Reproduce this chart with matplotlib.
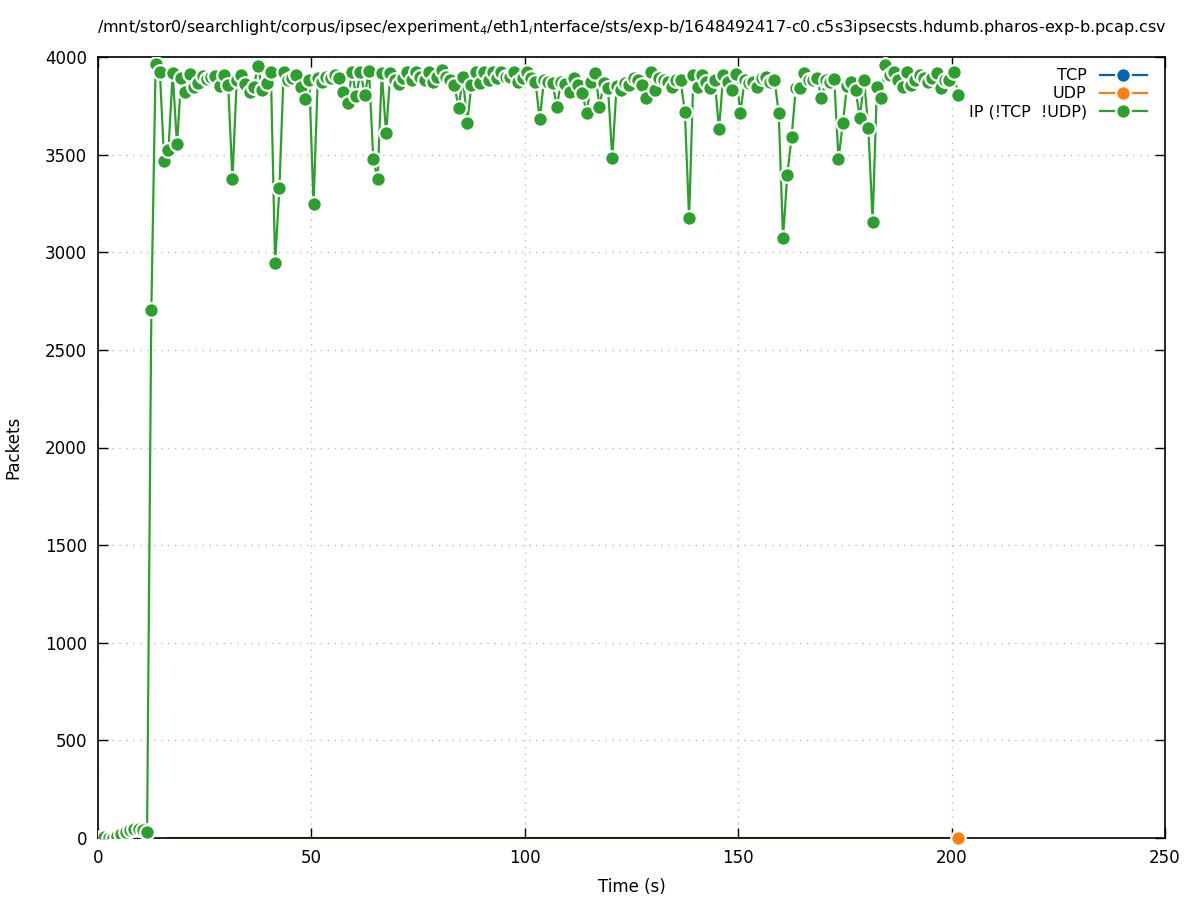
import matplotlib
matplotlib.use('Agg')
import matplotlib.pyplot as plt
import numpy as np

# packets per sample for IP traffic that is neither TCP nor UDP (one sample per second)
ip_other = [
    0, 5, 0, 0, 8, 20, 30, 42, 45, 46, 40, 30, 2704,
    3964, 3922, 3469, 3524, 3917, 3553, 3891, 3822, 3913, 3848,
    3866, 3903, 3887, 3900, 3903, 3852, 3908, 3857, 3374, 3882,
    3908, 3860, 3822, 3848, 3954, 3831, 3866, 3924, 2947, 3328,
    3924, 3882, 3895, 3908, 3848, 3783, 3882, 3246, 3891, 3873,
    3900, 3890, 3910, 3891, 3822, 3764, 3924, 3800, 3924, 3805,
    3929, 3478, 3375, 3919, 3609, 3917, 3882, 3862, 3890, 3924,
    3882, 3924, 3900, 3882, 3924, 3873, 3900, 3934, 3900, 3880,
    3857, 3738, 3900, 3660, 3857, 3924, 3866, 3924, 3882, 3924,
    3891, 3924, 3900, 3900, 3924, 3873, 3890, 3924, 3890, 3873,
    3680, 3882, 3870, 3866, 3746, 3873, 3860, 3822, 3891, 3857,
    3814, 3712, 3870, 3917, 3746, 3866, 3840, 3481, 3850, 3831,
    3866, 3857, 3891, 3882, 3857, 3788, 3924, 3831, 3891, 3880,
    3870, 3848, 3880, 3882, 3719, 3174, 3908, 3848, 3908, 3870,
    3840, 3882, 3629, 3908, 3870, 3831, 3913, 3712, 3880, 3866,
    3870, 3848, 3890, 3900, 3870, 3882, 3715, 3072, 3396, 3588,
    3840, 3840, 3917, 3880, 3882, 3891, 3788, 3880, 3870, 3887,
    3476, 3660, 3850, 3870, 3831, 3690, 3882, 3634, 3157, 3848,
    3788, 3959, 3910, 3924, 3880, 3848, 3924, 3857, 3880, 3908,
    3890, 3873, 3890, 3917, 3840, 3880, 3882, 3924, 3805,
]
t_start = 0.5
time = t_start + np.arange(len(ip_other))

# TCP and UDP counts stay at zero
tcp = [0] * 12
udp = [0] * (len(ip_other) - 16)
time_tcp = time[:12]
time_udp = time[16:]

title = ('/mnt/stor0/searchlight/corpus/ipsec/experiment$_4$/eth1$_i$nterface/sts/'
         'exp-b/1648492417-c0.c5s3ipsecsts.hdumb.pharos-exp-b.pcap.csv')

plt.rcParams['font.family'] = 'DejaVu Sans'
plt.rcParams['font.size'] = 12

fig = plt.figure(figsize=(11.97, 9.0), dpi=100)
ax = fig.add_axes([98/1197, 62/900, 1067/1197, 781/900])

style = dict(linewidth=1.6, marker='o', markersize=10.5,
             markeredgecolor='white', markeredgewidth=1.6)

ax.plot(time_tcp, tcp, color='#0064b0', label='TCP', zorder=2, **style)

# UDP line sits under the axis; only the last sample shows its marker
ax.plot(time_udp, udp, color='#ff7f0e', linewidth=1.6, zorder=2)
ax.plot(time_udp[-1:], udp[-1:], color='#ff7f0e', label='UDP', clip_on=False,
        zorder=5, **style)

ax.plot(time, ip_other, color='#2ca02c', label='IP (!TCP  !UDP)', zorder=4,
        **style)

ax.set_xlim(0, 250)
ax.set_ylim(0, 4000)
ax.set_xticks(np.arange(0, 251, 50))
ax.set_yticks(np.arange(0, 4001, 500))
ax.tick_params(axis='both', which='both', direction='in', top=True, right=True,
               length=7, width=1, labelsize=12)
ax.tick_params(axis='x', pad=8)
ax.tick_params(axis='y', pad=8)
ax.grid(True, linestyle=(0, (1, 4)), color='#bbbbbb', linewidth=1)
for s in ax.spines.values():
    s.set_linewidth(1.2)

ax.set_xlabel('Time (s)', labelpad=8)
ax.set_ylabel('Packets', labelpad=16)
ax.set_title(title, fontsize=11.5, pad=18)

ax.legend(loc='upper right', bbox_to_anchor=(0.994, 1.0), frameon=False,
          markerfirst=False, numpoints=1, handlelength=3.0, handletextpad=0.8,
          labelspacing=0.2, borderaxespad=0.3, fontsize=11.5)

fig.savefig('out.png', dpi=100)
